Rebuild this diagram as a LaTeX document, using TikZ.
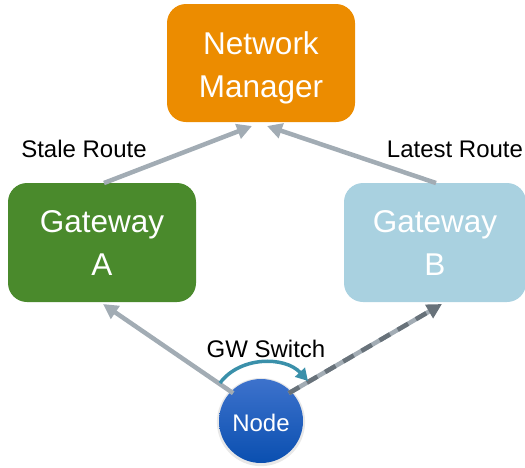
\documentclass[tikz,border=0pt]{standalone}
\usepackage{fontspec}
\setmainfont{Liberation Sans}
\usetikzlibrary{arrows.meta,shadows}
\definecolor{nmorange}{HTML}{EC8C00}
\definecolor{gagreen}{HTML}{4A8A2C}
\definecolor{gblue}{HTML}{A9D1E0}
\definecolor{lgray}{HTML}{A2ACB4}
\definecolor{dgray}{HTML}{68727A}
\definecolor{teal}{HTML}{3A90AA}
\definecolor{nodetop}{HTML}{3D72CC}
\definecolor{nodebot}{HTML}{0A4FB0}
\newcommand{\twolines}[3]{\raisebox{#1}[\height][\depth]{\begin{tabular}{@{}c@{}}#2\\[0pt]#3\end{tabular}}}
\tikzset{
  box/.style={rounded corners=19pt, inner sep=0pt, text=white,
    font=\fontsize{31.5}{43}\selectfont},
  lbl/.style={font=\fontsize{24}{28}\selectfont, text=black, inner sep=0pt},
  conn/.style={line width=4.5pt, lgray, -{Triangle[length=15pt,width=15pt]}},
}
\begin{document}
\begin{tikzpicture}[x=1pt,y=-1pt]
\useasboundingbox (0,0) rectangle (525,467);
\node[box, fill=nmorange, minimum width=188pt, minimum height=118pt] (nm) at (261,63) {\twolines{-4pt}{Network}{Manager}};
\node[box, fill=gagreen, minimum width=188pt, minimum height=119pt] (ga) at (102,242.5) {\twolines{-3pt}{Gateway}{A}};
\node[box, fill=gblue, minimum width=182pt, minimum height=119pt] (gb) at (435,242.5) {\twolines{-3pt}{Gateway}{B}};
\node[circle, minimum size=84pt, inner sep=0pt, top color=nodetop, bottom color=nodebot,
  drop shadow={shadow xshift=0pt, shadow yshift=-1pt, opacity=0.18, shadow scale=1.05},
  text=white, font=\fontsize{24}{28}\selectfont] (nd) at (261,421) {\raisebox{-2pt}[\height][\depth]{Node}};
\coordinate (gaT) at (104,183);
\coordinate (gbT) at (436,183);
\coordinate (nmL) at (252,126);
\coordinate (nmR) at (267,126);
\coordinate (gaB) at (103,304);
\coordinate (gbB) at (442,304);
\draw[conn] (nd.135) ++(2,2) -- (gaB);
\draw[conn] (gaT) -- (nmL);
\draw[conn] (gbT) -- (nmR);
% dashed arrow
\draw[line width=4.5pt, lgray, shorten >=12pt] (nd.45) ++(-2,2) -- (gbB);
\draw[line width=4.5pt, dgray, dash pattern=on 12pt off 9pt,
  -{Triangle[length=15pt,width=15pt]}] (nd.45) ++(-2,2) -- (gbB);
% GW switch arc
\coordinate (sw1) at (220,383);
\coordinate (sw2) at (308,381);
\draw[teal, line width=3.5pt, -{Triangle[length=12pt,width=13pt]}]
  (sw1) .. controls (240,356) and (285,356) .. (sw2);
\node[lbl] (stale) at (84,149) {Stale Route};
\node[lbl] (latest) at (455,149) {Latest Route};
\node[lbl] (gwsw) at (266,349) {GW Switch};
\end{tikzpicture}
\end{document}
